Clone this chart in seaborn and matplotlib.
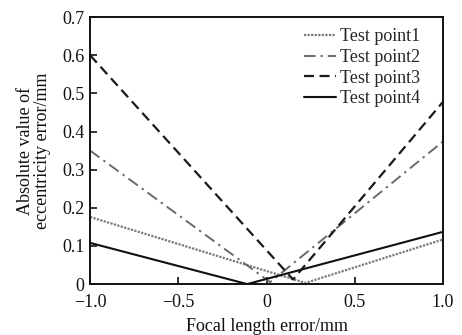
import matplotlib
matplotlib.use("Agg")
import matplotlib.pyplot as plt
import seaborn as sns
import pandas as pd

# Data
series_names = ["Test point1", "Test point2", "Test point3", "Test point4"]
x_p1 = [-1.0, 0.22, 1.0]
y_p1 = [0.176, 0.003, 0.117]
x_p2 = [-1.0, 0.02, 1.0]
y_p2 = [0.350, 0.005, 0.374]
x_p3 = [-1.0, 0.15, 1.0]
y_p3 = [0.600, 0.012, 0.478]
x_p4 = [-1.0, -0.11, 1.0]
y_p4 = [0.108, 0.000, 0.137]

x_ticks = [-1.0, -0.5, 0.0, 0.5, 1.0]
x_tick_labels = ["\u22121.0", "\u22120.5", "0", "0.5", "1.0"]
y_ticks = [0, 0.1, 0.2, 0.3, 0.4, 0.5, 0.6, 0.7]
y_tick_labels = ["0", "0.1", "0.2", "0.3", "0.4", "0.5", "0.6", "0.7"]

sns.set_theme(style="ticks")
plt.rcParams["font.family"] = ["Liberation Serif", "DejaVu Serif"]

FS = 13

fig = plt.figure(figsize=(4.62, 3.35), dpi=100)
ax = fig.add_axes([0.195, 0.152, 0.764, 0.797])

styles = [
    dict(color="#7a7a7a", linestyle=(0, (1, 0.6)), linewidth=1.6),
    dict(color="#6a6a6a", linestyle=(0, (6, 2.5, 1.2, 2.5)), linewidth=1.4),
    dict(color="#1a1a1a", linestyle=(0, (4.5, 2.5)), linewidth=1.6),
    dict(color="#111111", linestyle="-", linewidth=1.5),
]
xs = [x_p1, x_p2, x_p3, x_p4]
ys = [y_p1, y_p2, y_p3, y_p4]
for name, xv, yv, st in zip(series_names, xs, ys, styles):
    df = pd.DataFrame({"x": xv, "y": yv})
    sns.lineplot(data=df, x="x", y="y", ax=ax, label=name, sort=False, **st)

ax.set_xlim(-1.0, 1.0)
ax.set_ylim(0, 0.7)
ax.set_xticks(x_ticks)
ax.set_xticklabels(x_tick_labels)
ax.set_yticks(y_ticks)
ax.set_yticklabels(y_tick_labels)
ax.tick_params(direction="in", length=5, width=1.2, labelsize=FS, colors="#111111")
ax.tick_params(axis="x", pad=7)
ax.tick_params(axis="y", pad=4)
for sp in ax.spines.values():
    sp.set_linewidth(1.4)
    sp.set_color("#111111")
    sp.set_visible(True)

ax.set_xlabel("Focal length error/mm", fontsize=FS, color="#111111")
ax.xaxis.set_label_coords(0.5, -0.128)
ax.set_ylabel("Absolute value of\neccentricity error/mm", fontsize=FS,
              color="#111111", linespacing=1.0)
ax.yaxis.set_label_coords(-0.112, 0.5)

leg = ax.legend(loc="upper right", bbox_to_anchor=(0.955, 0.985), frameon=False,
                fontsize=FS, handlelength=1.8, handletextpad=0.2,
                labelspacing=0.2, borderaxespad=0.0)

fig.savefig("out.png", dpi=100, facecolor="white")
